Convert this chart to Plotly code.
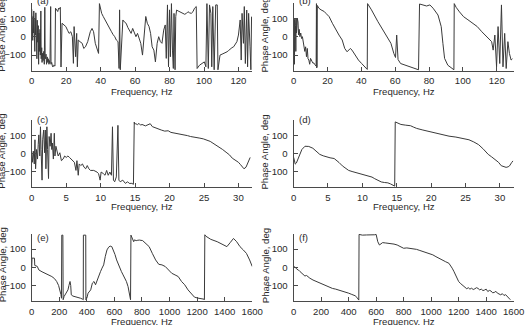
import plotly.graph_objects as go

# ---------------- data ----------------
freq_a = [0.0, 0.2, 0.4, 0.6, 0.8, 1.0, 1.2, 1.4, 1.6, 1.8, 2.0, 2.2, 2.4, 2.6, 2.8, 3.0, 3.2, 3.5, 3.8, 4.0,
          4.2, 4.5, 4.8, 5.0, 5.3, 5.5, 5.8, 6.0, 6.3, 6.6, 7.0, 7.3, 7.6, 7.8, 8.0, 8.3, 8.6, 9.0, 9.3, 9.6,
          10.0, 10.3, 10.6, 11.0, 11.2, 11.6, 12.0, 12.3, 12.8, 13.5, 13.8, 14.3, 14.8, 15.1, 15.6, 16.1, 16.6, 17.0, 17.6, 18.0,
          19.0, 19.8, 20.8, 21.7, 22.7, 23.6, 24.2, 24.6, 25.5, 26.1, 26.5, 27.0, 28.0, 29.3, 30.2, 31.2, 32.5, 34.0, 35.0, 35.9,
          36.9, 38.0, 38.8, 39.3, 40.6, 41.5, 42.5, 43.5, 44.4, 45.3, 46.3, 47.2, 48.2, 49.1, 50.1, 50.7, 51.0, 51.4, 52.0, 52.9,
          53.8, 54.8, 55.8, 56.7, 57.7, 58.6, 59.5, 60.5, 61.4, 62.4, 63.3, 64.3, 65.2, 66.2, 67.1, 68.1, 69.0, 69.9, 70.9, 71.8,
          72.8, 73.7, 74.7, 75.6, 76.6, 77.5, 78.1, 78.8, 79.4, 80.0, 80.5, 81.1, 81.7, 82.2, 82.6, 83.2, 83.6, 84.1, 85.0, 86.0,
          87.0, 87.9, 88.8, 89.8, 90.7, 91.6, 92.6, 93.6, 94.5, 95.5, 96.0, 97.4, 98.7, 100.2, 101.1, 101.7, 102.5, 103.2, 104.0, 104.5,
          105.1, 105.9, 106.8, 107.7, 108.1, 109.3, 110.5, 111.5, 112.5, 113.4, 114.3, 115.3, 116.2, 117.2, 118.2, 119.1, 120.0, 121.0, 121.6, 122.1,
          122.9, 123.4, 124.0, 124.8, 125.3, 125.9, 126.7, 127.2, 127.6]
phase_a = [150, 60, 130, -20, 110, 20, 140, -40, 90, -80, 100, 10, 130, -60, 40, -120, 90, -30, 60, -150,
           20, -80, 40, -100, 140, -120, -60, -140, -90, -130, -80, -150, 160, -110, -120, -95, -150, -110, -140, -120,
           -150, -130, -145, 164, -150, -140, -160, -165, -155, -160, 155, 150, 145, 137, 155, 150, 160, -165, 73, 70,
           60, 55, 35, 18, 27, 0, -145, 55, -109, 18, -164, -18, -27, -36, -64, -55, -27, 27, 45, 27,
           -36, -70, -91, 180, 127, 110, 91, 75, 64, 45, 27, 12, 0, -18, -27, -173, 146, -180, -55, 91,
           80, 73, 50, 36, 18, 45, 27, 0, 18, -18, -36, -100, -18, 110, 73, 55, 18, -55, -73, -137,
           -36, 0, -27, -36, 36, 64, -118, 173, -164, 146, -109, 180, -73, -173, 127, -180, 109, 145, 140, 136,
           130, 127, 122, 127, 136, 130, 127, 136, 155, 164, -173, -155, -146, -137, -164, 180, -173, 173, 127, -164,
           164, -180, 173, 173, -180, -100, -95, -91, -88, -82, -75, -64, -60, -55, -40, -27, 9, 91, -127, 127,
           -36, 164, -146, 145, -164, 127, -55, -180, 109]

freq_b = [0.0, 0.3, 0.5, 0.7, 0.9, 1.1, 1.3, 1.5, 1.7, 2.0, 2.2, 2.6, 2.9, 3.3, 3.7, 4.2, 4.7, 5.2, 5.7, 6.2,
          6.6, 7.1, 7.6, 8.1, 8.5, 9.0, 9.5, 10.0, 10.5, 11.0, 11.5, 11.9, 12.4, 12.9, 13.3, 13.5, 13.6, 13.7, 13.9, 14.0,
          14.4, 14.9, 16.2, 18.1, 19.1, 21.0, 22.9, 24.9, 26.8, 28.7, 30.2, 31.6, 32.5, 33.5, 34.5, 36.4, 38.3, 40.2, 42.1, 43.5,
          43.7, 46.0, 49.8, 53.6, 57.5, 59.2, 60.2, 60.9, 61.7, 63.2, 66.1, 69.0, 71.9, 73.8, 74.4, 76.7, 78.6, 80.5, 82.4, 85.3,
          87.2, 88.2, 89.2, 91.1, 94.0, 94.7, 94.9, 96.0, 98.0, 100.4, 103.0, 105.9, 108.5, 111.2, 113.0, 115.0, 117.0, 117.9, 118.9, 119.9,
          120.8, 121.8, 122.8, 123.7, 124.7, 125.6, 126.6, 127.5, 128.5, 129.3]
phase_b = [0, 90, -150, 100, -120, 60, -80, 100, 20, 60, 100, 80, 10, 40, 0, 20, -10, 0, -30, -36,
           -80, -55, -109, -64, -120, -127, -150, -118, -135, -137, -145, -142, -150, -155, -160, 180, -170, 175, -165, 170,
           160, 155, 146, 137, 127, 109, 73, 36, 9, -18, -64, -82, -73, -64, -73, -100, -127, -146, -164, -178,
           180, 146, 82, 27, -36, -91, -113, 9, -124, -146, -155, -164, -173, -180, 178, 173, 167, 173, 155, 118,
           55, -36, -118, -155, -173, -180, 180, 160, 135, 109, 92, 73, 55, 27, 10, -9, -27, -73, 9, -164,
           55, -146, 173, -164, 18, -173, -27, -91, -127, -120]

freq_c = [0.0, 0.09, 0.23, 0.37, 0.47, 0.56, 0.7, 0.84, 0.94, 1.03, 1.17, 1.27, 1.36, 1.5, 1.59, 1.73, 1.87, 1.97, 2.06, 2.2,
          2.3, 2.44, 2.53, 2.67, 2.81, 2.91, 3.0, 3.14, 3.28, 3.37, 3.51, 3.61, 3.84, 4.08, 4.31, 4.55, 4.78, 5.01, 5.25, 5.48,
          5.72, 5.95, 6.19, 6.42, 6.56, 6.75, 6.89, 7.12, 7.36, 7.59, 7.83, 8.06, 8.29, 8.53, 9.0, 9.47, 9.7, 9.93, 10.07, 10.4,
          10.64, 10.87, 11.1, 11.34, 11.57, 11.72, 11.86, 12.04, 12.28, 12.51, 12.65, 12.84, 13.21, 13.59, 13.92, 14.15, 14.53, 14.76, 14.8, 14.84,
          14.88, 14.92, 15.1, 15.35, 15.56, 15.8, 16.0, 16.5, 16.96, 17.2, 17.5, 17.9, 18.4, 18.8, 19.3, 19.8, 20.2, 20.7, 21.2, 21.7,
          22.1, 22.6, 23.05, 23.5, 24.0, 24.4, 24.9, 25.4, 25.9, 26.3, 26.8, 27.2, 27.7, 28.2, 28.7, 29.1, 29.6, 30.0, 30.3, 30.6,
          30.8, 31.1, 31.3, 31.5, 31.7]
phase_c = [5, -48, 14, -57, 77, -84, 23, -30, 50, 104, -13, 149, 23, -147, 77, 131, 5, 131, -84, 149,
           23, -138, 95, 41, 113, 23, 59, -30, 113, -13, 41, 23, -13, 5, -39, -30, -13, -21, -13, -21,
           -30, -39, -48, -93, -39, -120, -57, -66, -57, -75, -84, -66, -84, -93, -93, -102, -111, -147, -102, -111,
           -120, -93, -120, -102, -120, 149, -147, -156, -129, 157, -147, -156, -147, -165, -156, -165, -165, -170, 172, -165,
           175, 165, 166, 161, 168, 158, 162, 154, 160, 166, 150, 143, 136, 131, 125, 127, 118, 115, 111, 108,
           104, 100, 95, 93, 90, 86, 82, 76, 68, 58, 47, 36, 23, 8, -7, -25, -36, -48, -61, -75,
           -84, -75, -57, -45, -21]

freq_d = [0.0, 0.12, 0.24, 0.4, 0.6, 0.85, 1.2, 1.65, 2.2, 2.8, 3.3, 3.8, 4.3, 4.7, 5.3, 5.9, 6.3, 6.6, 7.1, 7.6,
          8.0, 8.5, 9.0, 9.45, 10.2, 10.9, 11.4, 11.8, 12.3, 12.75, 13.2, 13.7, 14.1, 14.4, 14.7, 14.78, 15.2, 15.6, 16.3, 17.0,
          17.4, 17.9, 18.8, 19.8, 20.7, 21.7, 22.6, 23.6, 24.5, 25.5, 26.2, 26.9, 27.6, 28.3, 28.8, 29.3, 29.8, 30.2, 30.6, 30.9,
          31.2, 31.4, 31.7, 31.9]
phase_d = [-20, -45, -58, -52, -30, -4, 23, 41, 40, 30, 15, -4, -12, -18, -23, -27, -38, -49, -68, -85,
           -93, -99, -104, -108, -115, -121, -130, -139, -150, -157, -160, -162, -168, -175, -180, 176, 168, 162, 158, 155,
           148, 140, 131, 122, 113, 104, 97, 92, 85, 77, 65, 50, 25, -4, -18, -31, -48, -67, -74, -76,
           -73, -68, -50, -40]

freq_e = [0, 2, 20, 22, 40, 52, 75, 99, 120, 146, 165, 181, 195, 205, 212, 216, 218, 226, 228, 235,
          252, 263, 270, 278, 283, 287, 299, 334, 355, 369, 374, 375, 392, 393, 400, 409, 428, 440, 452, 463,
          475, 487, 499, 510, 522, 534, 546, 558, 569, 581, 593, 604, 616, 628, 640, 651, 663, 675, 687, 699,
          705, 710, 715, 717, 720, 730, 740, 745, 758, 770, 781, 805, 828, 852, 875, 899, 922, 945, 969, 993,
          1016, 1040, 1063, 1087, 1110, 1134, 1158, 1181, 1205, 1228, 1250, 1253, 1256, 1264, 1299, 1346, 1393, 1416, 1440, 1464,
          1487, 1511, 1535, 1558, 1581, 1600]
phase_e = [0, 50, 50, 10, 5, -15, -25, -33, -40, -51, -62, -78, -100, -124, -150, -170, 176, 176, -178, -160,
           -142, -124, -100, -78, -100, -151, -158, -164, -170, -175, -178, 176, 176, -178, -169, -142, -124, -87, -78, -96,
           -69, -51, -24, -5, 13, 60, 95, 110, 116, 113, 95, 70, 40, 15, -5, -24, -42, -60, -78, -106,
           -130, -160, -175, -178, 176, 155, 140, 150, 146, 148, 149, 146, 131, 113, 76, 40, 16, 13, 4, -15,
           -33, -42, -51, -78, -96, -124, -142, -164, -169, -170, -175, -178, 178, 170, 153, 140, 122, 113, 135, 158,
           140, 113, 95, 76, 40, 4]

freq_f = [0, 12, 24, 35, 47, 59, 71, 82, 94, 106, 118, 141, 165, 188, 212, 235, 259, 282, 306, 330,
          353, 376, 400, 423, 447, 460, 470, 474, 476, 500, 530, 560, 590, 600, 612, 624, 635, 647, 670, 706,
          730, 753, 776, 800, 823, 847, 870, 894, 918, 941, 965, 988, 1012, 1035, 1059, 1082, 1106, 1129, 1141, 1153,
          1165, 1176, 1188, 1200, 1212, 1224, 1235, 1247, 1259, 1270, 1282, 1294, 1306, 1318, 1330, 1341, 1353, 1365, 1377, 1388,
          1400, 1412, 1424, 1435, 1447, 1459, 1471, 1482, 1494, 1506, 1518, 1530, 1541, 1553, 1565, 1576]
phase_f = [4, 0, -11, -15, -24, -32, -42, -48, -45, -55, -60, -70, -78, -88, -96, -104, -111, -116, -120, -125,
           -129, -135, -142, -149, -156, -165, -175, -180, 180, 176, 177, 176, 178, 180, 140, 122, 130, 135, 133, 131,
           127, 122, 112, 104, 106, 104, 100, 98, 92, 86, 82, 76, 68, 58, 48, 36, 30, 22, 10, -5,
           -22, -42, -60, -78, -88, -96, -105, -111, -118, -112, -120, -115, -122, -118, -112, -116, -124, -120, -128, -125,
           -120, -133, -127, -130, -140, -138, -132, -142, -147, -151, -145, -155, -150, -160, -168, -178]

panel_labels = ["(a)", "(b)", "(c)", "(d)", "(e)", "(f)"]
x_ranges = [[0, 128], [0, 130], [0, 32], [0, 32], [0, 1600], [0, 1600]]
x_dticks = [20, 20, 5, 5, 200, 200]
y_ticks = [-100, 0, 100]
x_title = "Frequency, Hz"
y_title = "Phase Angle, deg"

# ---------------- layout geometry ----------------
W, H = 530, 325
col_px = [(29.5, 256.0), (298.5, 524.5)]
row_px = [(2.7, 70.7), (120.3, 187.0), (233.5, 301.0)]
label_y = [0.5, 119.5, 237.0]
xtitle_off = [20.5, 19.5, 20.5]

def px2x(p):
    return p / W

def px2y(p):
    return 1 - p / H

series = [(freq_a, phase_a), (freq_b, phase_b), (freq_c, phase_c),
          (freq_d, phase_d), (freq_e, phase_e), (freq_f, phase_f)]

FONT = "Arial, Liberation Sans, sans-serif"
FS = 9.6
LINE = "#3a3a3a"
AX = "#4a4a4a"
TXT = "#2a2a2a"

fig = go.Figure()
layout = dict(width=W, height=H, margin=dict(l=0, r=0, t=0, b=0),
              paper_bgcolor="white", plot_bgcolor="white", showlegend=False,
              font=dict(family=FONT, size=FS, color=TXT))
annotations = []

for i, (fx, py) in enumerate(series):
    r, c = divmod(i, 2)
    n = i + 1
    xa = "x" if n == 1 else f"x{n}"
    ya = "y" if n == 1 else f"y{n}"
    fig.add_trace(go.Scatter(x=fx, y=py, mode="lines", xaxis=xa, yaxis=ya,
                             line=dict(color=LINE, width=1), hoverinfo="skip"))
    x0, x1 = col_px[c]
    y0, y1 = row_px[r]
    xkey = "xaxis" if n == 1 else f"xaxis{n}"
    ykey = "yaxis" if n == 1 else f"yaxis{n}"
    layout[xkey] = dict(domain=[px2x(x0), px2x(x1)], anchor=ya, range=x_ranges[i],
                        dtick=x_dticks[i], tick0=0, showline=True, linecolor=AX, linewidth=1,
                        ticks="inside", ticklen=4, tickcolor=AX, showgrid=False, zeroline=False,
                        ticklabelstandoff=1,
                        tickfont=dict(size=FS, color=TXT))
    layout[ykey] = dict(domain=[px2y(y1), px2y(y0)], anchor=xa, range=[-185, 185],
                        tickvals=y_ticks, showline=True, linecolor=AX, linewidth=1,
                        ticks="inside", ticklen=4, tickcolor=AX, showgrid=False, zeroline=False,
                        ticklabelstandoff=3,
                        tickfont=dict(size=FS, color=TXT))
    # panel label
    annotations.append(dict(text=panel_labels[i], xref="paper", yref="paper",
                            x=px2x(x0 + 3.5), y=px2y(label_y[r]),
                            xanchor="left", yanchor="middle", showarrow=False,
                            font=dict(size=FS, color=TXT)))
    # x title
    annotations.append(dict(text=x_title, xref="paper", yref="paper",
                            x=px2x((x0 + x1) / 2), y=px2y(y1 + xtitle_off[r]),
                            xanchor="center", yanchor="middle", showarrow=False,
                            font=dict(size=FS, color=TXT)))
    # y title
    ytx = -1 if c == 0 else 269
    annotations.append(dict(text=y_title, xref="paper", yref="paper",
                            x=px2x(ytx), y=px2y((y0 + y1) / 2 - 2),
                            xanchor="center", yanchor="middle", textangle=-90, showarrow=False,
                            font=dict(size=FS, color=TXT)))

layout["annotations"] = annotations
fig.update_layout(**layout)
fig.write_html("out.html")
